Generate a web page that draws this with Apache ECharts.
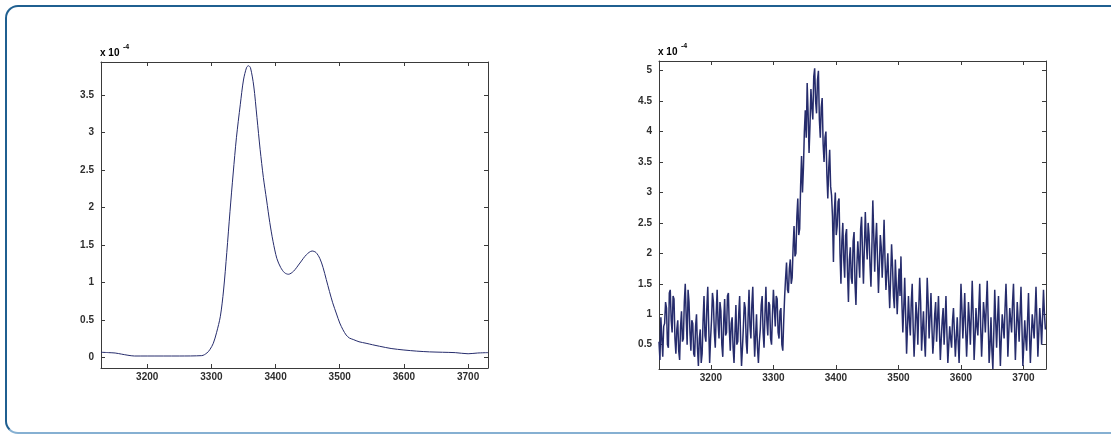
<!DOCTYPE html>
<html>
<head>
<meta charset="utf-8">
<script src="https://cdn.jsdelivr.net/npm/echarts@6/dist/echarts.min.js"></script>
<style>
  html, body { margin: 0; padding: 0; background: #fff; overflow: hidden; }
  .frame {
    position: absolute;
    left: 5px;
    top: 5px;
    width: 1200px;
    height: 425px;
    border: 2px solid #1f5f90;
    border-bottom-color: #86b0d2;
    border-radius: 13px;
  }
  #main { position: absolute; left: 0; top: 0; width: 1111px; height: 435px; }
</style>
</head>
<body>
<div class="frame"></div>
<div id="main"></div>
<script>
// 左图：平滑谱线 (x 10^-4)
const leftX = [3128, 3140, 3150, 3160, 3170, 3180, 3200, 3250, 3285, 3293, 3298, 3303, 3308, 3314,
  3319, 3324, 3329, 3334, 3339, 3345, 3350, 3355, 3358, 3361, 3366, 3371, 3376, 3381, 3386, 3391,
  3396, 3402, 3408, 3414, 3420, 3428, 3438, 3448, 3457, 3463, 3469, 3474, 3479, 3484, 3489, 3495,
  3500, 3505, 3510, 3515, 3521, 3530, 3541, 3551, 3562, 3580, 3600, 3620, 3640, 3660, 3680, 3700,
  3715, 3731]
const leftY = [0.07, 0.065, 0.06, 0.045, 0.03, 0.02, 0.02, 0.02, 0.025, 0.06, 0.11, 0.19, 0.33, 0.55,
  0.9, 1.4, 1.95, 2.46, 2.93, 3.37, 3.7, 3.87, 3.89, 3.86, 3.62, 3.2, 2.77, 2.4, 2.1, 1.8,
  1.55, 1.32, 1.2, 1.13, 1.11, 1.15, 1.26, 1.37, 1.42, 1.4, 1.32, 1.2, 1.04, 0.88, 0.73, 0.58,
  0.46, 0.37, 0.3, 0.26, 0.24, 0.21, 0.19, 0.17, 0.15, 0.12, 0.1, 0.085, 0.075, 0.07, 0.065, 0.05,
  0.06, 0.065]

// 右图：噪声谱线，x 从 3117 开始，每点间隔 1.5
const rightStart = 3117
const rightStep = 1.5
const rightY = [
  0.55, 0.25, 0.95, 0.6, 0.3, 0.8, 0.85, 1.2, 1.1, 0.5, 0.45, 1.35, 1.4, 0.9, 0.7, 1.3, 1.25, 0.6, 0.35, 0.75,
  0.9, 0.4, 0.25, 0.8, 1.05, 0.55, 0.6, 1.2, 1.5, 0.95, 0.5, 1.4, 1.2, 0.7, 0.4, 0.9, 0.85, 0.35, 0.3, 0.8,
  1.0, 0.45, 0.15, 0.6, 0.75, 0.2, 0.35, 0.9, 1.3, 0.65, 0.55, 1.1, 1.45, 0.8, 0.2, 0.6, 0.9, 1.35, 1.2, 0.7,
  0.45, 1.0, 1.4, 0.85, 0.6, 1.2, 1.05, 0.5, 0.3, 0.9, 1.25, 0.65, 0.7, 1.3, 1.35, 0.75, 0.4, 0.85, 0.95, 0.45,
  0.2, 0.7, 1.15, 0.5, 0.55, 1.0, 1.3, 0.6, 0.15, 0.45, 0.8, 1.2, 1.1, 0.55, 0.35, 0.95, 1.4, 0.8, 0.6, 1.15,
  1.45, 0.8, 0.3, 0.65, 1.0, 0.45, 0.2, 0.55, 0.75, 1.15, 1.3, 0.7, 0.45, 1.0, 1.45, 0.9, 0.65, 1.2, 1.15, 0.6,
  0.5, 1.0, 1.4, 1.1, 0.8, 1.3, 1.25, 0.7, 0.6, 1.05, 1.1, 0.5, 0.4, 0.9, 1.3, 1.6, 1.85, 1.4, 1.35, 1.75,
  1.9, 1.5, 1.6, 2.1, 2.45, 1.95, 2.0, 2.6, 2.9, 2.3, 2.4, 3.1, 3.6, 3.0, 3.4, 4.0, 4.35, 3.9, 4.8, 4.3,
  3.65, 4.1, 4.7, 4.4, 4.2, 4.9, 5.04, 4.5, 4.3, 4.85, 5.0, 4.2, 3.9, 4.4, 4.55, 3.8, 3.5, 3.9, 4.0, 3.3,
  2.9, 3.4, 3.7, 3.1, 2.95, 2.6, 1.86, 2.7, 3.0, 2.3, 2.45, 2.85, 2.9, 2.0, 1.5, 2.2, 2.5, 1.9, 1.6, 2.3,
  2.4, 1.7, 1.2, 1.9, 2.1, 1.6, 1.5, 2.2, 2.35, 1.5, 1.15, 1.8, 2.2, 1.9, 1.6, 2.4, 2.6, 2.0, 1.5, 2.1,
  2.68, 2.2, 1.9, 2.5, 2.3, 1.8, 1.45, 2.1, 2.87, 2.3, 1.7, 2.2, 2.5, 1.9, 1.35, 1.8, 2.3, 2.1, 1.6, 2.0,
  2.55, 1.9, 1.4, 1.7, 2.0, 1.5, 1.1, 1.6, 2.15, 1.8, 1.3, 1.1, 1.9, 1.5, 1.0, 1.4, 1.75, 1.3, 1.95, 1.2,
  0.7, 1.1, 1.6, 1.0, 0.35, 0.8, 1.3, 0.9, 0.65, 1.2, 1.5, 0.8, 0.3, 0.7, 1.2, 1.0, 0.5, 1.1, 1.6, 1.2,
  0.4, 0.75, 1.05, 0.6, 0.3, 0.9, 1.6, 1.2, 0.6, 0.95, 1.35, 0.8, 0.35, 0.6, 1.0, 1.2, 0.55, 0.9, 1.3, 0.75,
  0.25, 0.6, 0.9, 1.1, 0.5, 0.85, 1.3, 0.7, 0.2, 0.5, 0.8, 0.6, 0.45, 0.9, 1.1, 0.7, 0.3, 0.6, 0.95, 0.55,
  0.2, 0.8, 1.5, 1.1, 0.6, 0.95, 1.35, 0.75, 0.3, 0.7, 1.2, 0.9, 0.5, 1.0, 1.55, 1.0, 0.25, 0.6, 1.1, 0.8,
  0.65, 1.1, 1.5, 0.8, 0.3, 0.7, 1.2, 1.0, 0.7, 1.15, 1.55, 0.9, 0.2, 0.5, 0.95, 0.4, 0.1, 0.7, 1.4, 0.9,
  0.45, 0.9, 1.3, 0.7, 0.15, 0.6, 1.0, 0.8, 0.6, 1.1, 1.5, 1.0, 0.3, 0.7, 1.1, 0.9, 0.7, 1.2, 1.5, 0.85,
  0.25, 0.7, 1.2, 0.9, 0.55, 1.0, 1.45, 0.8, 0.15, 0.5, 0.9, 0.6, 0.4, 0.9, 1.35, 0.7, 0.2, 0.6, 1.0, 0.8,
  0.6, 1.0, 1.45, 0.9, 0.3, 0.7, 1.1, 0.85, 0.5, 0.95, 1.4, 1.0, 0.75]

// 刻度
const xTicks = [3200, 3300, 3400, 3500, 3600, 3700]
const leftYTicks = [0, 0.5, 1, 1.5, 2, 2.5, 3, 3.5]
const rightYTicks = [0.5, 1, 1.5, 2, 2.5, 3, 3.5, 4, 4.5, 5]

const lineColor = '#262c6c'
const axisColor = '#3a3a3a'
const labelStyle = { color: '#2e2e2e', fontSize: 10, fontWeight: 'bold', fontFamily: 'Liberation Sans, Arial' }

// 坐标轴：带内刻度的边框（类似 MATLAB box on）
function makeAxis(gridIndex, position, min, max, ticks, showLabel) {
  return {
    type: 'value',
    gridIndex,
    position,
    min,
    max,
    splitLine: { show: false },
    axisLine: { show: true, onZero: false, lineStyle: { color: axisColor, width: 1 } },
    axisTick: { show: true, inside: true, length: 4, customValues: ticks, lineStyle: { color: axisColor } },
    axisLabel: Object.assign({
      show: showLabel,
      customValues: ticks,
      margin: position === 'left' ? 7 : 4,
      formatter: (v) => String(v),
    }, labelStyle),
  }
}

const leftData = leftX.map((x, i) => [x, leftY[i]])
const rightData = rightY.map((y, i) => [rightStart + i * rightStep, y])

let mycharts = echarts.init(document.getElementById('main'))

mycharts.setOption({
  animation: false,
  grid: [
    { left: 101, top: 62, width: 387, height: 306 },
    { left: 659, top: 61, width: 387, height: 308 },
  ],
  xAxis: [
    makeAxis(0, 'bottom', 3128, 3731, xTicks, true),
    makeAxis(0, 'top', 3128, 3731, xTicks, false),
    makeAxis(1, 'bottom', 3117, 3736, xTicks, true),
    makeAxis(1, 'top', 3117, 3736, xTicks, false),
  ],
  yAxis: [
    makeAxis(0, 'left', -0.14, 3.94, leftYTicks, true),
    makeAxis(0, 'right', -0.14, 3.94, leftYTicks, false),
    makeAxis(1, 'left', 0.1, 5.16, rightYTicks, true),
    makeAxis(1, 'right', 0.1, 5.16, rightYTicks, false),
  ],
  // 坐标轴上方的指数标注
  graphic: [
    { type: 'text', left: 100, top: 48, style: Object.assign({ text: 'x 10' }, labelStyle) },
    { type: 'text', left: 123, top: 44, style: Object.assign({}, labelStyle, { text: '-4', fontSize: 7 }) },
    { type: 'text', left: 658, top: 47, style: Object.assign({ text: 'x 10' }, labelStyle) },
    { type: 'text', left: 681, top: 43, style: Object.assign({}, labelStyle, { text: '-4', fontSize: 7 }) },
  ],
  series: [
    {
      type: 'line',
      xAxisIndex: 0,
      yAxisIndex: 0,
      data: leftData,
      smooth: 0.3,
      showSymbol: false,
      lineStyle: { color: lineColor, width: 1 },
    },
    {
      type: 'line',
      xAxisIndex: 2,
      yAxisIndex: 2,
      data: rightData,
      showSymbol: false,
      lineStyle: { color: lineColor, width: 1.5 },
    },
  ],
})
</script>
</body>
</html>
